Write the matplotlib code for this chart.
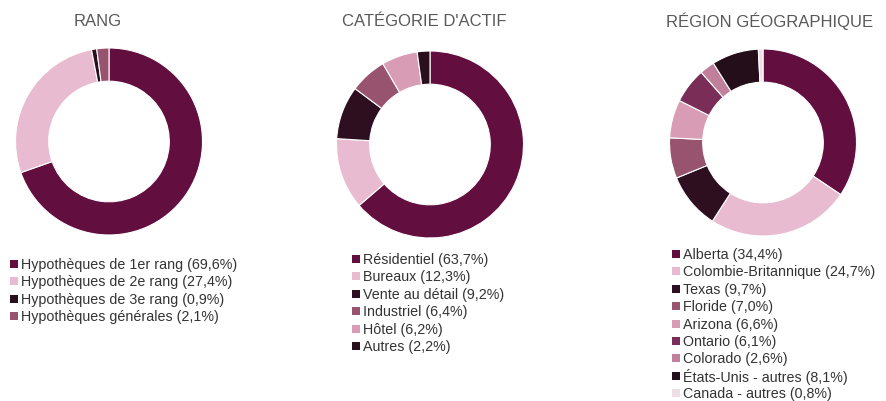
import matplotlib
matplotlib.use("Agg")
import matplotlib.pyplot as plt
from matplotlib.patches import Rectangle

plt.rcParams["font.family"] = ["Liberation Sans", "DejaVu Sans"]

W, H = 886, 402

# panel 1 : rang
rang_labels = ["Hypothèques de 1er rang", "Hypothèques de 2e rang",
               "Hypothèques de 3e rang", "Hypothèques générales"]
rang_values = [69.6, 27.4, 0.9, 2.1]
rang_colors = ["#620E3F", "#E8BBD0", "#2A0F1C", "#98536F"]

# panel 2 : catégorie d'actif
cat_labels = ["Résidentiel", "Bureaux", "Vente au détail", "Industriel",
              "Hôtel", "Autres"]
cat_values = [63.7, 12.3, 9.2, 6.4, 6.2, 2.2]
cat_colors = ["#620E3F", "#E8BBD0", "#2E0F1F", "#98536F", "#D89CB4", "#2A0F1C"]

# panel 3 : région géographique
reg_labels = ["Alberta", "Colombie-Britannique", "Texas", "Floride", "Arizona",
              "Ontario", "Colorado", "États-Unis - autres", "Canada - autres"]
reg_values = [34.4, 24.7, 9.7, 7.0, 6.6, 6.1, 2.6, 8.1, 0.8]
reg_colors = ["#620E3F", "#E8BBD0", "#2E0F1F", "#98536F", "#D89CB4",
              "#7A2D57", "#C0809C", "#230E19", "#EEDFE6"]

panels = [
    ("RANG", rang_labels, rang_values, rang_colors,
     (109, 142.5), 98, (10, 265)),
    ("CATÉGORIE D'ACTIF", cat_labels, cat_values, cat_colors,
     (430, 145.5), 424, (352, 260)),
    ("RÉGION GÉOGRAPHIQUE", reg_labels, reg_values, reg_colors,
     (763, 143.5), 770, (672, 255)),
]

R = 93.5       # outer radius, px
ROW = 17.4     # legend row step, px
SQ = 8         # legend square, px

fig = plt.figure(figsize=(W / 100, H / 100), dpi=100)

for title, labels, values, colors, (cx, cy), tx, (lx, ly) in panels:
    ax = fig.add_axes([(cx - R) / W, (H - cy - R) / H, 2 * R / W, 2 * R / H])
    ax.pie(values, colors=colors, startangle=90, counterclock=False,
           radius=1, wedgeprops=dict(width=0.355, edgecolor="white", lw=0.8))
    ax.set_xlim(-1, 1)
    ax.set_ylim(-1, 1)
    ax.set_aspect("equal")
    ax.axis("off")

    fig.text(tx / W, (H - 21) / H, title, ha="center", va="center",
             fontsize=12, color="#595959")

    for i, (lab, val, col) in enumerate(zip(labels, values, colors)):
        y = ly + i * ROW
        fig.patches.append(Rectangle((lx / W, (H - y - SQ / 2) / H),
                                     SQ / W, SQ / H, facecolor=col,
                                     transform=fig.transFigure, figure=fig))
        txt = f"{lab} ({val:.1f}%)".replace(".", ",")
        fig.text((lx + 11) / W, (H - y) / H, txt, ha="left", va="center",
                 fontsize=10.3, color="#333333")

fig.savefig("out.png", dpi=100)
